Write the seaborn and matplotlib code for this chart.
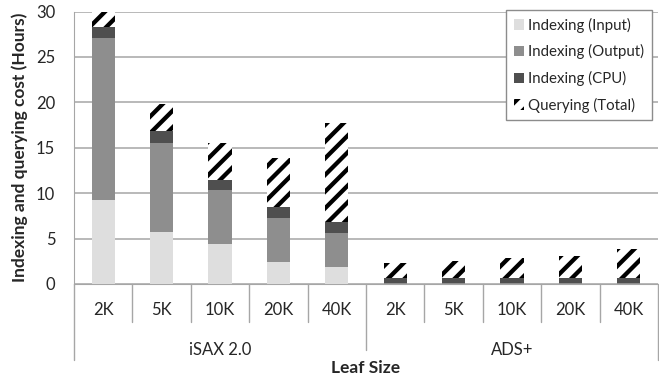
import numpy as np
import pandas as pd
import matplotlib
matplotlib.use("Agg")
import matplotlib.pyplot as plt
import matplotlib.transforms as mtransforms
from matplotlib.patches import Patch
import seaborn as sns

# Data (hours)
groups = ["iSAX 2.0", "ADS+"]
leaf_sizes = ["2K", "5K", "10K", "20K", "40K"]
idx_input = [9.26, 5.77, 4.44, 2.38, 1.83, 0.05, 0.05, 0.05, 0.05, 0.05]
idx_output = [17.84, 9.78, 5.92, 4.85, 3.75, 0.10, 0.10, 0.10, 0.10, 0.10]
idx_cpu = [1.20, 1.28, 1.11, 1.26, 1.29, 0.50, 0.50, 0.50, 0.50, 0.50]
querying = [1.90, 2.94, 4.08, 5.40, 10.88, 1.62, 1.92, 2.17, 2.47, 3.24]

labels = ["Indexing (Input)", "Indexing (Output)", "Indexing (CPU)", "Querying (Total)"]
colors = ["#dedede", "#8e8e8e", "#4f4f4f", "white"]

sns.set_style("white")
plt.rcParams["font.family"] = ["Lato", "DejaVu Sans"]
plt.rcParams["hatch.linewidth"] = 3.1
plt.rcParams["hatch.color"] = "black"

cats = [f"{g} {s}" for g in groups for s in leaf_sizes]
df = pd.DataFrame({
    "cat": cats,
    "input": idx_input,
    "output": idx_output,
    "cpu": idx_cpu,
    "query": querying,
})
# cumulative tops, drawn tallest first so lower layers cover them
df["top_input"] = df["input"]
df["top_output"] = df["top_input"] + df["output"]
df["top_cpu"] = df["top_output"] + df["cpu"]
df["top_query"] = df["top_cpu"] + df["query"]

fig = plt.figure(figsize=(6.59, 3.79), dpi=100)
ax = fig.add_axes([74 / 659, 1 - 284 / 379, 584 / 659, 272.5 / 379])

sns.barplot(data=df, x="cat", y="top_query", order=cats, color="white", width=0.4,
            edgecolor="black", linewidth=0, hatch="//", errorbar=None, ax=ax, zorder=3)
sns.barplot(data=df, x="cat", y="top_cpu", order=cats, color=colors[2], saturation=1,
            width=0.4, linewidth=0, errorbar=None, ax=ax, zorder=3)
sns.barplot(data=df, x="cat", y="top_output", order=cats, color=colors[1], saturation=1,
            width=0.4, linewidth=0, errorbar=None, ax=ax, zorder=3)
sns.barplot(data=df, x="cat", y="top_input", order=cats, color=colors[0], saturation=1,
            width=0.4, linewidth=0, errorbar=None, ax=ax, zorder=3)

ax.set_xlim(-0.5, len(cats) - 0.5)
ax.set_ylim(0, 30)
ax.set_yticks(range(0, 31, 5))
ax.yaxis.grid(True, color="#a6a6a6", linewidth=1.1, zorder=0)
ax.set_axisbelow(True)
for side in ["top", "right"]:
    ax.spines[side].set_visible(False)
ax.spines["left"].set_color("#a6a6a6")
ax.spines["bottom"].set_color("#a6a6a6")
ax.tick_params(axis="y", length=5, color="#a6a6a6", labelsize=12, pad=8.5, width=1)
ax.tick_params(axis="x", length=0, labelsize=12, pad=13)
ax.set_xticks(range(len(cats)))
ax.set_xticklabels(leaf_sizes * len(groups))
ax.set_xlabel("")
ax.set_ylabel("Indexing and querying cost (Hours)", fontsize=12.5, fontweight="bold", labelpad=6)

# category separators below the axis
trans = mtransforms.blended_transform_factory(ax.transData, fig.transFigure)
ybase = 1 - 284 / 379
for i in range(1, len(cats)):
    if i % len(leaf_sizes) == 0:
        continue
    ax.plot([i - 0.5, i - 0.5], [ybase, 1 - 322 / 379], color="#a6a6a6", lw=1,
            transform=trans, clip_on=False)
for i in range(0, len(cats) + 1, len(leaf_sizes)):
    yend = 350 if 0 < i < len(cats) else 360
    ax.plot([i - 0.5, i - 0.5], [ybase, 1 - yend / 379], color="#a6a6a6", lw=1,
            transform=trans, clip_on=False)

for k, g in enumerate(groups):
    xc = k * len(leaf_sizes) + (len(leaf_sizes) - 1) / 2
    ax.text(xc, 1 - 350 / 379, g, ha="center", va="center", fontsize=12, transform=trans)
fig.text((74 + 292) / 659, 1 - 368 / 379, "Leaf Size", ha="center", va="center",
         fontsize=12.5, fontweight="bold")

handles = [
    Patch(facecolor=colors[0], edgecolor="none"),
    Patch(facecolor=colors[1], edgecolor="none"),
    Patch(facecolor=colors[2], edgecolor="none"),
    Patch(facecolor="white", edgecolor="black", linewidth=0, hatch="//"),
]
leg = ax.legend(handles, labels, loc="upper right", bbox_to_anchor=(652 / 659, 1 - 10 / 379),
                bbox_transform=fig.transFigure, fontsize=10.8, frameon=True, fancybox=False,
                framealpha=1, edgecolor="#8c8c8c", handlelength=0.7, handleheight=0.7,
                handletextpad=0.3, labelspacing=0.78, borderpad=0.5, borderaxespad=0)
leg.get_frame().set_linewidth(1.0)

fig.savefig("out.png", dpi=100)
